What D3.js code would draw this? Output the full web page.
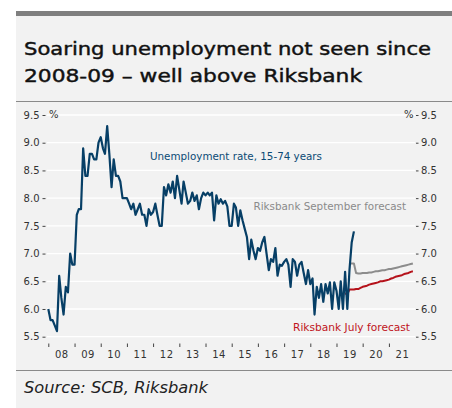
<!DOCTYPE html>
<html><head><meta charset="utf-8">
<script src="https://cdn.jsdelivr.net/npm/d3@7"></script>
<style>body{margin:0;background:#fff}svg{display:block}</style>
</head><body><svg id="c" width="452" height="408"></svg>
<script>
// ---- data ----
const startYear = 2008;
const unemployment = [
 6.0,5.8,5.8,5.7,5.6,6.6,6.2,5.9,6.4,6.3,7.0,6.8,
 6.8,7.7,7.8,7.8,8.9,8.4,8.4,8.8,8.8,8.7,8.7,9.0,
 9.1,8.9,8.8,9.3,8.8,8.2,8.7,8.4,8.4,8.3,8.0,8.0,
 8.0,7.9,7.8,7.9,7.7,7.8,7.9,7.7,7.7,7.5,7.8,7.7,
 7.75,7.9,7.7,7.5,7.5,8.2,8.05,8.25,8.1,8.3,8.0,8.4,
 8.15,7.9,8.3,8.1,7.9,7.95,8.1,7.95,8.05,7.8,8.0,8.1,
 8.05,8.1,8.05,8.1,7.6,8.05,7.9,7.98,7.9,7.95,7.85,7.5,
 7.5,7.9,7.83,7.5,7.78,7.6,7.45,7.3,6.9,7.25,7.05,6.9,
 7.1,7.05,7.2,7.3,7.0,6.7,6.9,6.85,7.1,6.6,6.8,6.78,
 6.85,6.9,6.8,6.4,6.9,6.85,6.6,6.8,6.85,6.65,6.45,6.7,
 6.45,6.55,5.9,6.4,6.2,6.45,6.13,6.45,6.28,6.48,6.0,6.48,
 6.33,6.0,6.5,6.0,6.67,6.0,6.7,7.2,7.4
];
const julyStart = 136;
const julyForecast = [6.28,6.27,6.35,6.35,6.35,6.36,6.36,6.38,6.4,6.41,6.42,6.44,6.45,6.46,6.47,6.48,
 6.5,6.5,6.51,6.52,6.53,6.55,6.56,6.58,6.59,6.6,6.61,6.63,6.64,6.65,6.67,6.68];
const septStart = 138;
const septForecast = [6.82,6.82,6.82,6.65,6.64,6.64,6.65,6.65,6.65,6.66,6.66,6.67,6.68,6.68,6.69,
 6.7,6.7,6.71,6.72,6.72,6.73,6.74,6.75,6.76,6.77,6.78,6.79,6.8,6.81,6.82];
const yTicks = [5.5,6.0,6.5,7.0,7.5,8.0,8.5,9.0,9.5];
const years = [2008,2009,2010,2011,2012,2013,2014,2015,2016,2017,2018,2019,2020,2021];
const yearLabels = ["08","09","10","11","12","13","14","15","16","17","18","19","20","21"];
const titleLines = ["Soaring unemployment not seen since","2008-09 – well above Riksbank"];
const sourceText = "Source: SCB, Riksbank";

// ---- drawing ----
const svg = d3.select("#c");
const FONT = "'DejaVu Sans', sans-serif";
svg.append("rect").attr("x",16).attr("y",16).attr("width",436).attr("height",392).attr("fill","#f2f2f2");
svg.append("rect").attr("x",16).attr("y",11).attr("width",436).attr("height",5).attr("fill","#7f7f7f");
svg.append("line").attr("x1",16).attr("x2",452).attr("y1",101.5).attr("y2",101.5).attr("stroke","#8a8a8a").attr("stroke-width",1);
svg.append("line").attr("x1",16).attr("x2",452).attr("y1",370.5).attr("y2",370.5).attr("stroke","#8a8a8a").attr("stroke-width",1);

svg.selectAll("text.title").data(titleLines).join("text").attr("class","title")
  .attr("x",24).attr("y",(d,i)=>55+i*26.7)
  .attr("font-family",FONT).attr("font-size",18.5).attr("fill","#111")
  .attr("stroke","#111").attr("stroke-width",0.45)
  .attr("textLength",(d,i)=>i===0?407:338).attr("lengthAdjust","spacingAndGlyphs")
  .text(d=>d);

svg.append("text").attr("x",24).attr("y",393).attr("font-family",FONT).attr("font-style","italic")
  .attr("font-size",15.5).attr("fill","#222").attr("textLength",184).attr("lengthAdjust","spacingAndGlyphs").text(sourceText);

const date = i => new Date(startYear, i, 1);
const x = d3.scaleTime().domain([new Date(2008,0,1), new Date(2022,0,1)]).range([48.3, 415.1]);
const y = d3.scaleLinear().domain([5.5, 9.5]).range([336.7, 115]);

// grid
svg.append("g").selectAll("line").data(yTicks).join("line")
  .attr("x1",47).attr("x2",415).attr("y1",d=>y(d)).attr("y2",d=>y(d))
  .attr("stroke","#fff").attr("stroke-width",1.3);

// axes
const fmt = d3.format(".1f");
const gl = svg.append("g").attr("transform","translate(45.5,0)")
  .call(d3.axisLeft(y).tickValues(yTicks).tickFormat(fmt).tickSize(3).tickPadding(3));
const gr = svg.append("g").attr("transform","translate(416,0)")
  .call(d3.axisRight(y).tickValues(yTicks).tickFormat(fmt).tickSize(2.5).tickPadding(2.5));
const gx = svg.append("g").attr("transform","translate(0,343.5)")
  .call(d3.axisBottom(x).tickValues(years.map(yr=>new Date(yr,0,1))).tickFormat("").tickSize(3.5));
const gxl = svg.append("g").attr("transform","translate(0,344)")
  .call(d3.axisBottom(x).tickValues(years.map(yr=>new Date(yr,6,1))).tickFormat((d,i)=>yearLabels[i]).tickSize(0).tickPadding(6.5));
[gl,gr,gx,gxl].forEach(g=>{
  g.select(".domain").remove();
  g.selectAll("line").attr("stroke","#444").attr("stroke-width",1);
  g.selectAll("text").attr("font-family",FONT).attr("font-size",10).attr("fill","#333");
});
gxl.selectAll("text").attr("letter-spacing",0.5);

// % units
svg.append("text").attr("x",49).attr("y",y(9.5)).attr("dy","0.32em").attr("font-family",FONT).attr("font-size",10).attr("fill","#333").text("%");
svg.append("text").attr("x",413.5).attr("y",y(9.5)).attr("dy","0.32em").attr("text-anchor","end").attr("font-family",FONT).attr("font-size",10).attr("fill","#333").text("%");

// lines
const line = d3.line().x(d=>x(d.date)).y(d=>y(d.v)).curve(d3.curveLinear);
const series = (arr, s) => arr.map((v,i)=>({date:date(s+i), v}));
svg.append("path").datum(series(septForecast, septStart)).attr("d",line)
  .attr("fill","none").attr("stroke","#8c8c8c").attr("stroke-width",2).attr("stroke-linejoin","round");
svg.append("path").datum(series(julyForecast, julyStart)).attr("d",line)
  .attr("fill","none").attr("stroke","#b5121b").attr("stroke-width",2).attr("stroke-linejoin","round");
svg.append("path").datum(series(unemployment, 0)).attr("d",line)
  .attr("fill","none").attr("stroke","#073f66").attr("stroke-width",2.2).attr("stroke-linejoin","round");

// annotations
svg.append("text").attr("x",150).attr("y",159.5).attr("font-family",FONT).attr("font-size",10.3).attr("fill","#0b4a75")
  .attr("textLength",172).attr("lengthAdjust","spacingAndGlyphs").text("Unemployment rate, 15-74 years");
svg.append("text").attr("x",253.5).attr("y",210).attr("font-family",FONT).attr("font-size",10.3).attr("fill","#8a8a8a")
  .attr("textLength",152.5).attr("lengthAdjust","spacingAndGlyphs").text("Riksbank September forecast");
svg.append("text").attr("x",293).attr("y",330.5).attr("font-family",FONT).attr("font-size",10.3).attr("fill","#c0141c")
  .attr("textLength",117).attr("lengthAdjust","spacingAndGlyphs").text("Riksbank July forecast");
</script></body></html>
